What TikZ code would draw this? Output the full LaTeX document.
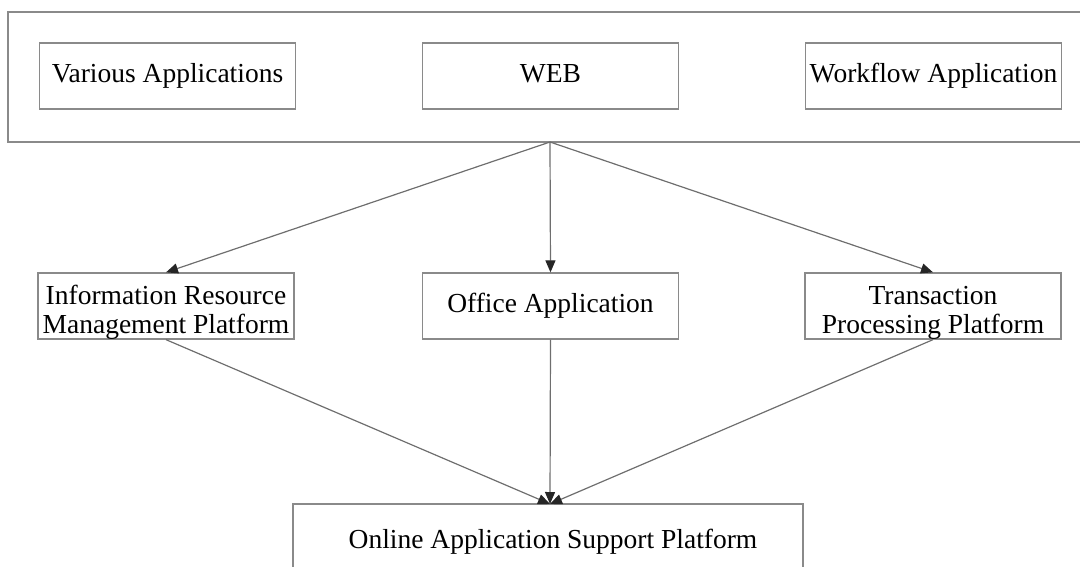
\documentclass[tikz,border=0pt]{standalone}
\usepackage{fontspec}
\setmainfont{Liberation Serif}
\usetikzlibrary{arrows.meta}
\definecolor{frame}{HTML}{8A8A8A}
\definecolor{wire}{HTML}{6E6E6E}
\tikzset{
  box/.style={draw=frame, line width=1.3pt, rectangle, inner sep=0pt,
    minimum width=256pt, minimum height=66pt, align=center,
    font=\fontsize{27.5}{29}\selectfont},
  oneline/.style={text height=19pt, text depth=6pt},
  twoline/.style={text height=60pt, text depth=6pt},
  label/.style={inner sep=0pt, font=\fontsize{27.5}{29}\selectfont},
  wrap/.style={draw=frame, line width=1.3pt},
  arr/.style={draw=wire, line width=1.2pt,
    -{Triangle[length=12pt,width=10pt,fill=black!85,color=black!85]}}
}
\begin{document}
\begin{tikzpicture}[x=1pt,y=-1pt]
\useasboundingbox (0,0) rectangle (1080,566);

% outer application layer (open to the right)
\coordinate (otr) at (1082,12);
\coordinate (otl) at (8,12);
\coordinate (obl) at (8,142);
\coordinate (obr) at (1082,142);
\draw[wrap] (otr) -- (otl) -- (obl) -- (obr);
\coordinate (hub) at (550,142);

% top row
\node[box,oneline] (various) at (167.5,76) {Various Applications};
\node[box,oneline] (web) at (550.5,76) {WEB};
\node[box,oneline] (workflow) at (933.5,76) {Workflow Application};

% middle row
\node[box,twoline] (irm) at (166,306) {Information Resource\\Management Platform};
\node[box,oneline] (office) at (550.5,306) {Office Application};
\node[box,twoline] (trans) at (933,306) {Transaction\\Processing Platform};

% bottom platform (continues below the lower edge)
\coordinate (blb) at (293,568);
\coordinate (blt) at (293,504);
\coordinate (brt) at (803,504);
\coordinate (brb) at (803,568);
\draw[wrap] (blb) -- (blt) -- (brt) -- (brb);
\coordinate (sink) at (550,504);
\node[label, anchor=base] (online) at (553,548) {Online Application Support Platform};

% connectors
\draw[arr] (hub) -- (irm.north);
\draw[arr] (hub) -- (office.north);
\draw[arr] (hub) -- (trans.north);
\draw[arr] (irm.south) -- (sink);
\draw[arr] (office.south) -- (sink);
\draw[arr] (trans.south) -- (sink);
\end{tikzpicture}
\end{document}
